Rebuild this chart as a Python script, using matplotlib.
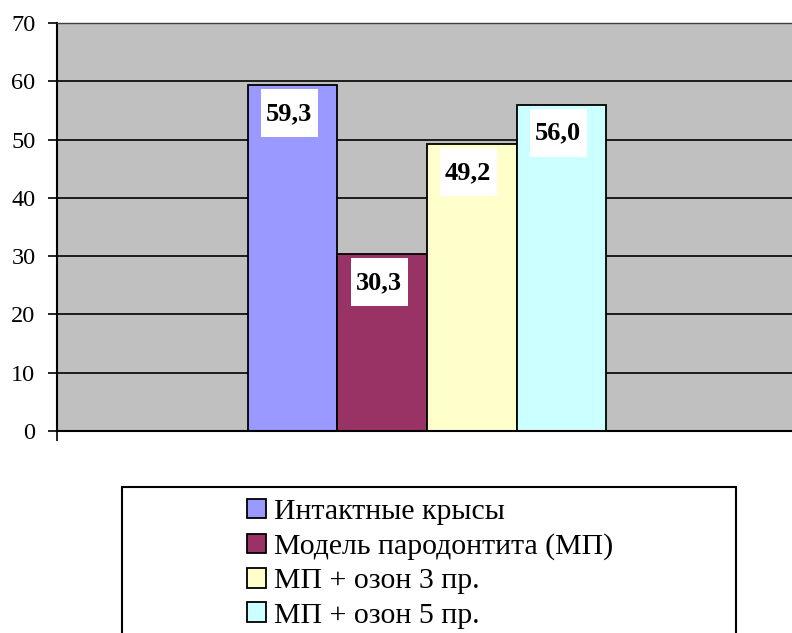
import matplotlib
matplotlib.use("Agg")
import matplotlib.pyplot as plt
from matplotlib.patches import Rectangle, Patch
from matplotlib.transforms import ScaledTranslation

# Data
groups = ["Интактные крысы", "Модель пародонтита (МП)", "МП + озон 3 пр.", "МП + озон 5 пр."]
values = [59.3, 30.3, 49.2, 56.0]
value_labels = ["59,3", "30,3", "49,2", "56,0"]
colors = ["#9999FF", "#993366", "#FFFFCC", "#CCFFFF"]
yticks = [0, 10, 20, 30, 40, 50, 60, 70]

plt.rcParams["font.family"] = ["Liberation Serif", "DejaVu Serif"]

W, H = 792, 633
fig = plt.figure(figsize=(W / 100, H / 100), dpi=100)
fig.patch.set_facecolor("white")

# plot area (runs past the right edge of the canvas)
ax = fig.add_axes([57 / W, (H - 431) / H, 740 / W, 408 / H])
ax.set_facecolor("#C0C0C0")

x = list(range(len(values)))
ax.bar(x, values, width=1.0, color=colors, edgecolor="black", linewidth=1.3, zorder=2)

xl = (-2.634, 5.634)
ax.set_xlim(*xl)
ax.set_ylim(0, 70)

ax.set_axisbelow(True)
ax.set_yticks(yticks)
ax.set_yticklabels([str(t) for t in yticks], fontsize=17.5)
ax.yaxis.grid(True, color="black", linewidth=1.2)
ax.tick_params(axis="y", direction="out", length=6.5, width=1.2, pad=9, colors="black")

ax.set_xticks([xl[0]])
ax.set_xticklabels([""])
ax.tick_params(axis="x", direction="out", length=7.5, width=1.2)

for side in ("left", "bottom"):
    ax.spines[side].set_color("black")
    ax.spines[side].set_linewidth(1.5)
ax.spines["top"].set_color("#404040")
ax.spines["top"].set_linewidth(1.0)
ax.spines["right"].set_visible(False)

# value labels in white boxes just under each bar top
for i, (v, lab) in enumerate(zip(values, value_labels)):
    anchor = ScaledTranslation(i, v, ax.transData)
    ax.add_patch(Rectangle((-31.5, -52), 57, 48, transform=anchor,
                           facecolor="white", edgecolor="none", zorder=3))
    ax.text(-3.5, -35, lab, transform=anchor, ha="center", va="baseline",
            fontsize=19, fontweight="bold", color="black", zorder=4)

# legend frame (extends below the canvas)
fig.patches.append(Rectangle((122 / W, (H - 650) / H), (736 - 122) / W, (650 - 487) / H,
                             transform=fig.transFigure, facecolor="white",
                             edgecolor="black", linewidth=1.5, zorder=0))

handles = [Patch(facecolor=c, edgecolor="black", linewidth=1.3) for c in colors]
fig.legend(handles, groups, loc="upper left",
           bbox_to_anchor=(247 / W, (H - 499) / H),
           frameon=False, fontsize=21.5, borderpad=0, borderaxespad=0,
           handlelength=0.62, handleheight=0.62, handletextpad=0.3,
           labelspacing=0.27)

fig.savefig("out.png", dpi=100)
